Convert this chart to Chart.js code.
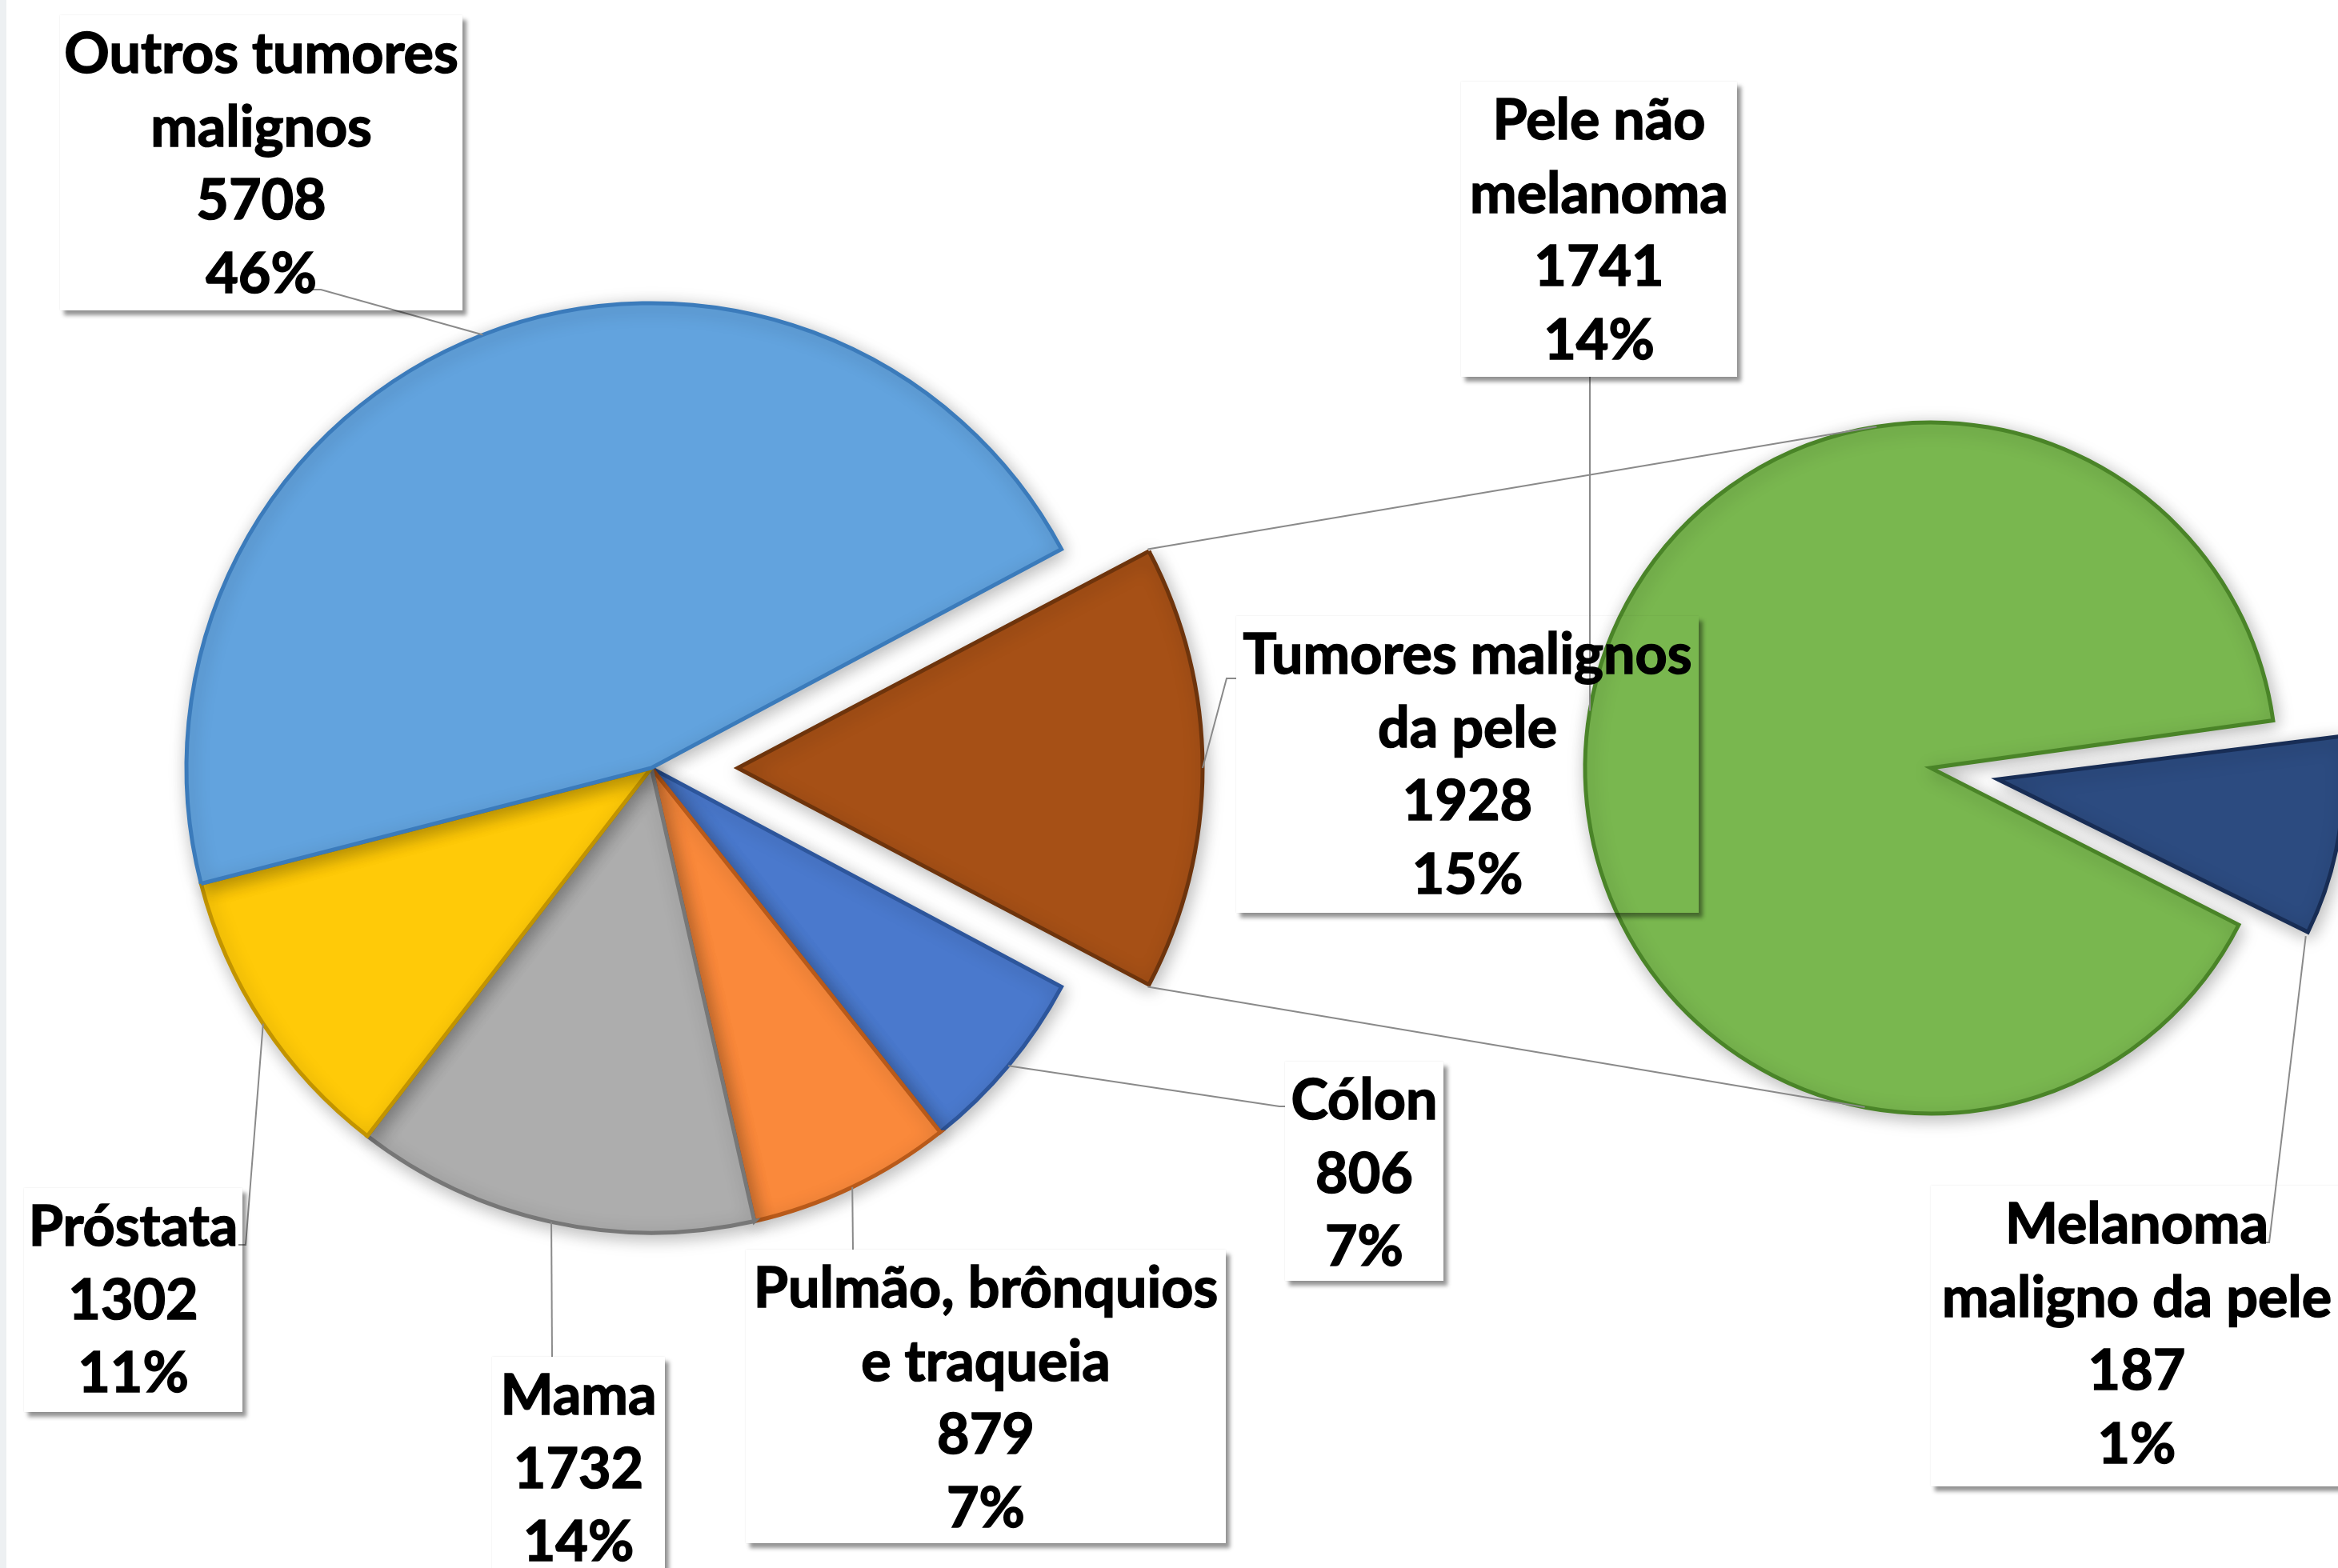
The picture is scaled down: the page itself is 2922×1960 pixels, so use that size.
<!DOCTYPE html>
<html>
<head>
<meta charset="utf-8">
<script src="https://cdn.jsdelivr.net/npm/chart.js@4/dist/chart.umd.min.js"></script>
<style>
  html, body { margin: 0; padding: 0; background: #ffffff; }
  #wrap { position: relative; width: 2922px; height: 1960px; overflow: hidden; background: #ffffff; }
  #strip { position: absolute; left: 0; top: 0; width: 8px; height: 1960px; background: #edf0f2; }
  canvas { position: absolute; left: 0; top: 0; }
  .box {
    position: absolute;
    background: transparent;
    box-shadow: 5px 6px 5px rgba(0,0,0,0.42), 0 0 2px rgba(0,0,0,0.10);
    text-align: center;
    font-family: 'Lato', 'Open Sans', 'DejaVu Sans', sans-serif;
    font-weight: 700;
    font-size: 70px;
    line-height: 91.5px;
    color: #000;
    -webkit-text-stroke: 1.6px #000;
    white-space: nowrap;
  }
  .box div { white-space: nowrap; }
</style>
</head>
<body>
<div id="wrap">
  <div id="strip"></div>
  <canvas id="mainPie" width="2922" height="1960"></canvas>
  <canvas id="subPie" width="2922" height="1960"></canvas>
  <div id="labels"></div>
</div>
<script>
// ---------------- DATA ----------------
const mainCategories = [['Tumores malignos', 'da pele'], ['Cólon'], ['Pulmão, brônquios', 'e traqueia'], ['Mama'], ['Próstata'], ['Outros tumores', 'malignos']];
const mainValues = [1928, 806, 879, 1732, 1302, 5708];
const mainPercents = ['15%', '7%', '7%', '14%', '11%', '46%'];

const subCategories = [['Pele não', 'melanoma'], ['Melanoma', 'maligno da pele']];
const subValues = [1741, 187];
const subPercents = ['14%', '1%'];

// ---------------- STYLE / LAYOUT ----------------
const mainColors  = ['#a65016', '#4a79cd', '#fa893b', '#adadad', '#ffca08', '#62a3de'];
const mainBorders = ['#6e340c', '#2d569c', '#b85a1a', '#777777', '#c29400', '#3b7bbb'];
const subColors   = ['#79b74f', '#2c4b80'];
const subBorders  = ['#4a8428', '#182d55'];

const MAIN_CENTER = [814, 960], MAIN_R = 581;
const SUB_CENTER = [2413, 960], SUB_R = 432;
const W = 2922, H = 1960;

// label boxes: [left, top, width, height]
const mainBoxes = [
  [1545, 770, 578, 371],
  [1606, 1327, 198, 274],
  [932, 1562, 600, 367],
  [615, 1696, 216, 275],
  [30, 1485, 273, 280],
  [75, 19, 503, 369]
];
const subBoxes = [
  [1826, 102, 345, 369],
  [2413, 1482, 515, 376]
];
// leader lines: attach fraction along arc, elbow point, anchor point
const mainLeaders = [
  {frac: 0.5, pts: [[1533, 848], [1545, 848]]},
  {frac: 0.5, pts: [[1599, 1383], [1606, 1383]]},
  {frac: 0.5, pts: [[1066, 1562]]},
  {frac: 0.5, pts: [[690, 1696]]},
  {frac: 0.5, pts: [[307, 1556], [298, 1556]]},
  {frac: 0.5, pts: [[401, 362], [388, 362]]}
];
const subLeaders = [
  {frac: 0.5, pts: [[1987, 471]]},
  {frac: 1.0, pts: [[2836, 1553], [2828, 1553]]}
];
const seriesLineAngles = [-9, 191]; // degrees clockwise from top on the second pie

// ---------------- HELPERS ----------------
function sumArr(a) { return a.reduce((s, v) => s + v, 0); }
function fixOf(arc) {
  const off = (arc.options.offset || 0) / 4;
  return off * (1 - Math.sin(Math.min(Math.PI, arc.circumference || 0)));
}
function arcGeom(arc) {
  const off = (arc.options.offset || 0) / 4;
  const mid = (arc.startAngle + arc.endAngle) / 2;
  return {
    cx: arc.x + Math.cos(mid) * off,
    cy: arc.y + Math.sin(mid) * off,
    r: arc.outerRadius + fixOf(arc)
  };
}
function arcPoint(arc, frac) {
  const g = arcGeom(arc);
  const a = arc.startAngle + (arc.endAngle - arc.startAngle) * frac;
  return [g.cx + Math.cos(a) * g.r, g.cy + Math.sin(a) * g.r];
}
function cornerAt(arc, angleRad) {
  const g = arcGeom(arc);
  return [g.cx + Math.cos(angleRad) * g.r, g.cy + Math.sin(angleRad) * g.r];
}

const radiusFix = {
  id: 'radiusFix',
  afterDatasetsUpdate(chart) {
    chart.getDatasetMeta(0).data.forEach(arc => {
      arc.outerRadius -= fixOf(arc);
    });
  }
};
const softShadow = {
  id: 'softShadow',
  beforeDatasetsDraw(chart) {
    const ctx = chart.ctx;
    ctx.save();
    ctx.shadowColor = 'rgba(0,0,0,0.28)';
    ctx.shadowBlur = 22;
    ctx.shadowOffsetX = 3;
    ctx.shadowOffsetY = 5;
  },
  afterDatasetsDraw(chart) {
    chart.ctx.restore();
  }
};
function drawPolyline(ctx, pts) {
  ctx.beginPath();
  ctx.moveTo(pts[0][0], pts[0][1]);
  for (let i = 1; i < pts.length; i++) ctx.lineTo(pts[i][0], pts[i][1]);
  ctx.stroke();
}
function lineStyle(ctx) {
  ctx.strokeStyle = '#8a8a8a';
  ctx.lineWidth = 2;
  ctx.shadowColor = 'transparent';
}

const mainLeaderPlugin = {
  id: 'mainLeaders',
  afterDatasetsDraw(chart) {
    const ctx = chart.ctx, arcs = chart.getDatasetMeta(0).data;
    ctx.save(); lineStyle(ctx);
    mainLeaders.forEach((l, i) => drawPolyline(ctx, [arcPoint(arcs[i], l.frac)].concat(l.pts)));
    ctx.restore();
  }
};

let mainChart;
const subLinesPlugin = {
  id: 'subLines',
  afterDatasetsDraw(chart) {
    const ctx = chart.ctx, arcs = chart.getDatasetMeta(0).data;
    ctx.save(); lineStyle(ctx);
    subLeaders.forEach((l, i) => drawPolyline(ctx, [arcPoint(arcs[i], l.frac)].concat(l.pts)));
    // series lines from the exploded slice to the second pie
    const other = mainChart.getDatasetMeta(0).data[0];
    const green = arcs[0];
    const gg = arcGeom(green);
    const ends = seriesLineAngles.map(d => {
      const a = (d - 90) * Math.PI / 180;
      return [gg.cx + Math.cos(a) * gg.r, gg.cy + Math.sin(a) * gg.r];
    });
    drawPolyline(ctx, [cornerAt(other, other.startAngle), ends[0]]);
    drawPolyline(ctx, [cornerAt(other, other.endAngle), ends[1]]);
    ctx.restore();
  }
};

function pad(center) {
  // place the chart-area centre at `center`
  const cx = center[0], cy = center[1];
  const halfW = Math.min(cx, W - cx), halfH = Math.min(cy, H - cy);
  return { left: cx - halfW, right: W - (cx + halfW), top: cy - halfH, bottom: H - (cy + halfH) };
}

// ---------------- MAIN PIE ----------------
const mainTotal = sumArr(mainValues);
mainChart = new Chart(document.getElementById('mainPie'), {
  type: 'pie',
  data: {
    labels: mainCategories,
    datasets: [{
      data: mainValues,
      backgroundColor: mainColors,
      borderColor: mainBorders,
      borderWidth: 5,
      borderJoinStyle: 'miter',
      offset: [432, 0, 0, 0, 0, 0]
    }]
  },
  options: {
    responsive: false,
    animation: false,
    devicePixelRatio: 1,
    radius: MAIN_R,
    rotation: 90 - (mainValues[0] / mainTotal) * 180,
    layout: { padding: pad(MAIN_CENTER) },
    plugins: { legend: { display: false }, tooltip: { enabled: false } }
  },
  plugins: [radiusFix, softShadow, mainLeaderPlugin]
});

// ---------------- SECOND PIE ----------------
new Chart(document.getElementById('subPie'), {
  type: 'pie',
  data: {
    labels: subCategories,
    datasets: [{
      data: subValues,
      backgroundColor: subColors,
      borderColor: subBorders,
      borderWidth: 5,
      borderJoinStyle: 'miter',
      offset: [0, 340]
    }]
  },
  options: {
    responsive: false,
    animation: false,
    devicePixelRatio: 1,
    radius: SUB_R,
    rotation: 117,
    layout: { padding: pad(SUB_CENTER) },
    plugins: { legend: { display: false }, tooltip: { enabled: false } }
  },
  plugins: [radiusFix, softShadow, subLinesPlugin]
});

// ---------------- DATA LABELS ----------------
const labelsEl = document.getElementById('labels');
function addBox(box, lines) {
  const d = document.createElement('div');
  d.className = 'box';
  d.style.left = box[0] + 'px';
  d.style.top = box[1] + 'px';
  d.style.width = box[2] + 'px';
  d.style.height = box[3] + 'px';
  lines.forEach(t => {
    const l = document.createElement('div');
    l.textContent = t;
    d.appendChild(l);
  });
  labelsEl.appendChild(d);
}
mainCategories.forEach((c, i) => addBox(mainBoxes[i], c.concat([String(mainValues[i]), mainPercents[i]])));
subCategories.forEach((c, i) => addBox(subBoxes[i], c.concat([String(subValues[i]), subPercents[i]])));
</script>
</body>
</html>
